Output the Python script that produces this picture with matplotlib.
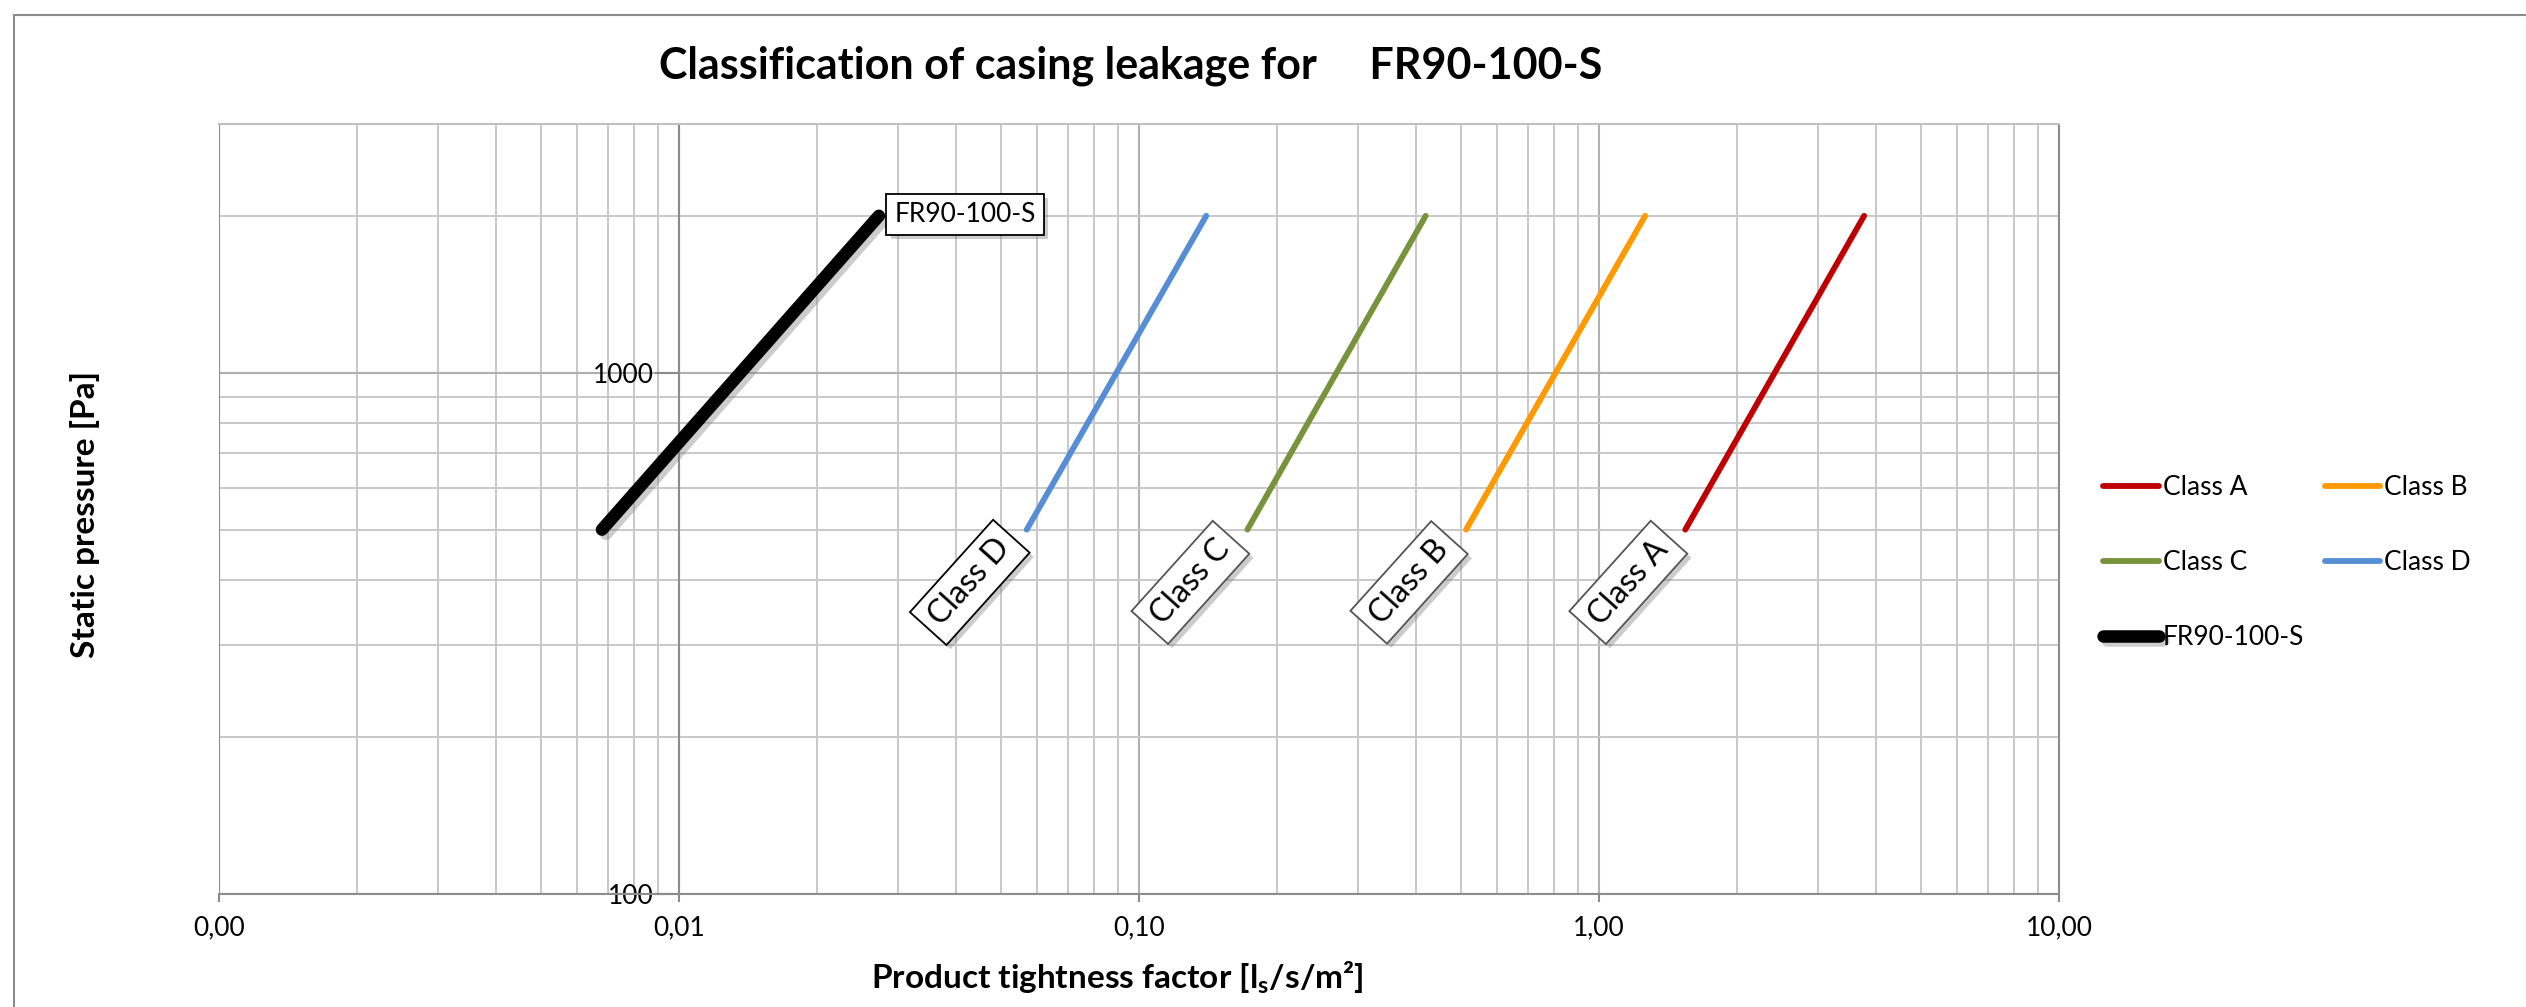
import matplotlib
matplotlib.use("Agg")
import matplotlib.pyplot as plt
import matplotlib.patheffects as pe
from matplotlib.lines import Line2D
from matplotlib.ticker import LogLocator, NullFormatter

plt.rcParams["font.family"] = ["Lato", "DejaVu Sans"]
plt.rcParams["mathtext.fontset"] = "custom"
plt.rcParams["mathtext.bf"] = "Lato:bold"
plt.rcParams["mathtext.rm"] = "Lato"

# static pressure [Pa] at the two ends of each line
pressure = [500, 2000]
# product tightness factor [l/s/m2]
class_a = [1.54, 3.77]
class_b = [0.514, 1.26]
class_c = [0.172, 0.42]
class_d = [0.057, 0.14]
fr90 = [0.0068, 0.0272]

series_names = ["Class A", "Class B", "Class C", "Class D", "FR90-100-S"]
series_colors = ["#C00000", "#FF9900", "#77933C", "#558ED5", "#000000"]

x_ticks = [0.001, 0.01, 0.1, 1, 10]
x_tick_labels = ["0,00", "0,01", "0,10", "1,00", "10,00"]
y_ticks = [100, 1000]
y_tick_labels = ["100", "1000"]

W, H = 2526, 1007
fig = plt.figure(figsize=(W / 100, H / 100), dpi=100)
ax = fig.add_axes([219 / W, 1 - 894 / H, (2059 - 219) / W, (894 - 124) / H])

ax.set_xscale("log")
ax.set_yscale("log")
ax.set_xlim(0.001, 10)
ax.set_ylim(100, 3000)

ax.xaxis.set_minor_locator(LogLocator(base=10, subs=range(2, 10)))
ax.yaxis.set_minor_locator(LogLocator(base=10, subs=range(2, 10)))
ax.xaxis.set_minor_formatter(NullFormatter())
ax.yaxis.set_minor_formatter(NullFormatter())
ax.set_xticks(x_ticks)
ax.set_xticklabels(x_tick_labels)
ax.set_yticks(y_ticks)
ax.set_yticklabels(y_tick_labels)

ax.grid(True, which="major", color="#b0b0b0", lw=1.5)
ax.grid(True, which="minor", color="#c8c8c8", lw=1.4)
ax.set_axisbelow(True)

spine_col = "#8c8c8c"
for s in ax.spines.values():
    s.set_color(spine_col)
    s.set_linewidth(1.5)
ax.spines["top"].set_color("#c0c0c0")
ax.spines["left"].set_position(("data", 0.01))
ax.axvline(0.001, color=spine_col, lw=1.5, zorder=1)

ax.tick_params(which="minor", length=0)
ax.tick_params(axis="x", which="major", direction="out", length=6, width=1.5,
               color=spine_col, labelsize=19, pad=9)
ax.tick_params(axis="y", which="major", direction="out", length=17, width=1.5,
               color=spine_col, labelsize=19, pad=1)

class_series = [class_a, class_b, class_c, class_d]
handles = {}
for name, vals, col in zip(series_names[:4], class_series, series_colors[:4]):
    (ln,) = ax.plot(vals, pressure, color=col, lw=4.2, solid_capstyle="round",
                    zorder=3)
    handles[name] = ln
    t = ax.annotate(name, xy=(vals[0], pressure[0]), xytext=(-41, -38),
                    textcoords="offset points", ha="center", va="center",
                    rotation=48, fontsize=23, zorder=4,
                    bbox=dict(boxstyle="square,pad=0.3", fc="white",
                              ec="black" if name == "Class D" else "#555555",
                              lw=1.3))
    t.get_bbox_patch().set_path_effects(
        [pe.withSimplePatchShadow(offset=(3, -3), shadow_rgbFace="gray", alpha=0.4)])

(ln,) = ax.plot(fr90, pressure, color="black", lw=9, solid_capstyle="round",
                zorder=3,
                path_effects=[pe.SimpleLineShadow(offset=(3, -3), shadow_color="gray",
                                                  alpha=0.4), pe.Normal()])
handles["FR90-100-S"] = ln
t = ax.annotate("FR90-100-S", xy=(fr90[1], pressure[1]), xytext=(62, 1),
                textcoords="offset points", ha="center", va="center",
                fontsize=19, zorder=4,
                bbox=dict(boxstyle="square,pad=0.3", fc="white", ec="black", lw=1.3))
t.get_bbox_patch().set_path_effects(
    [pe.withSimplePatchShadow(offset=(3, -3), shadow_rgbFace="gray", alpha=0.4)])

order = ["Class A", "Class C", "FR90-100-S", "Class B", "Class D"]
leg = fig.legend([handles[n] for n in order], order, ncol=2,
                 loc="upper left", bbox_to_anchor=(2090 / W, 1 - 462 / H),
                 frameon=False, fontsize=19, handlelength=2.1, handletextpad=0.15,
                 labelspacing=1.9, columnspacing=0.8, borderpad=0)

fig.text(1131 / W, 1 - 66 / H,
         "Classification of casing leakage for     FR90-100-S",
         ha="center", va="center", fontsize=31, fontweight="bold")
fig.text(85 / W, 1 - 514 / H, "Static pressure [Pa]", rotation=90,
         ha="center", va="center", fontsize=24, fontweight="bold")
fig.text(1117 / W, 1 - 978 / H,
         r"Product tightness factor [l$_\mathbf{s}$/s/m²]",
         ha="center", va="center", fontsize=24, fontweight="bold")

# chart frame
fig.add_artist(Line2D([14 / W, 14 / W], [0, 1 - 15 / H], color="#8c8c8c", lw=1.5,
                      transform=fig.transFigure))
fig.add_artist(Line2D([14 / W, 1], [1 - 15 / H, 1 - 15 / H], color="#8c8c8c", lw=1.5,
                      transform=fig.transFigure))

fig.savefig("out.png", dpi=100, facecolor="white")
